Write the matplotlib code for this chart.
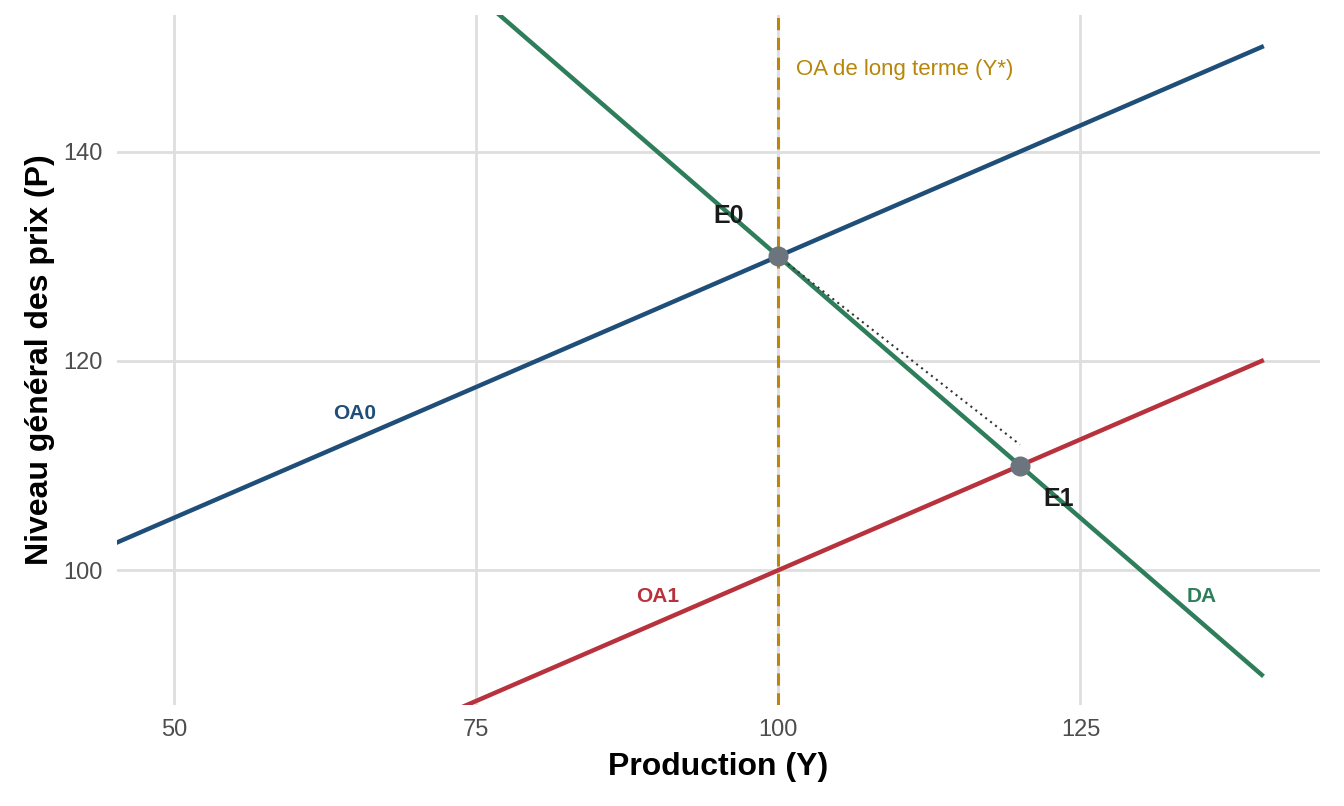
import matplotlib
matplotlib.use("Agg")
import matplotlib.pyplot as plt
import numpy as np

x_oa0 = [45, 140]; y_oa0 = [102.5, 150]
x_oa1 = [45, 140]; y_oa1 = [72.5, 120]
x_da = [45, 140]; y_da = [185, 90]
eq_x = [100, 120]; eq_y = [130, 110]
dot_x = [100, 120]; dot_y = [130, 112]
y_star = 100

blue, red, green, gold = "#1F4E79", "#B8323E", "#2E7D5B", "#B8860B"
plt.rcParams['font.family'] = ['Liberation Sans', 'DejaVu Sans']

fig = plt.figure(figsize=(13.44, 8.06), dpi=100)
ax = fig.add_axes([0.087, 0.125, 0.895, 0.857])
ax.plot(x_oa0, y_oa0, color=blue, lw=3.2, zorder=3)
ax.plot(x_oa1, y_oa1, color=red, lw=3.2, zorder=3)
ax.plot(x_da, y_da, color=green, lw=3.2, zorder=3)
ax.axvline(y_star, color=gold, lw=2.2, ls=(0, (4, 2.5)), zorder=2)
ax.plot(dot_x, dot_y, color="#333333", lw=1.5, ls=(0, (1, 2)), zorder=4)
ax.scatter(eq_x, eq_y, s=180, color="#6C757D", zorder=5)

ax.text(101.5, 147.8, "OA de long terme (Y*)", color=gold, fontsize=16, va="center")
ax.text(65, 115, "OA0", color=blue, fontsize=15, fontweight="bold", ha="center", va="center")
ax.text(90, 97.5, "OA1", color=red, fontsize=15, fontweight="bold", ha="center", va="center")
ax.text(135, 97.5, "DA", color=green, fontsize=15, fontweight="bold", ha="center", va="center")
ax.text(95.9, 133.8, "E0", color="#1a1a1a", fontsize=18, fontweight="bold", ha="center", va="center")
ax.text(123.2, 106.8, "E1", color="#1a1a1a", fontsize=18, fontweight="bold", ha="center", va="center")

ax.set_xlim(45.3, 144.8)
ax.set_ylim(87.1, 153.1)
ax.set_xticks([50, 75, 100, 125])
ax.set_yticks([100, 120, 140])
ax.grid(True, color="#DEDEDE", lw=2)
ax.set_axisbelow(True)
for s in ax.spines.values():
    s.set_visible(False)
ax.tick_params(length=0, labelsize=17, colors="#4D4D4D", pad=10)
ax.set_xlabel("Production (Y)", fontsize=23, fontweight="bold", labelpad=8)
ax.set_ylabel("Niveau général des prix (P)", fontsize=23, fontweight="bold", labelpad=6)
fig.savefig("out.png")
